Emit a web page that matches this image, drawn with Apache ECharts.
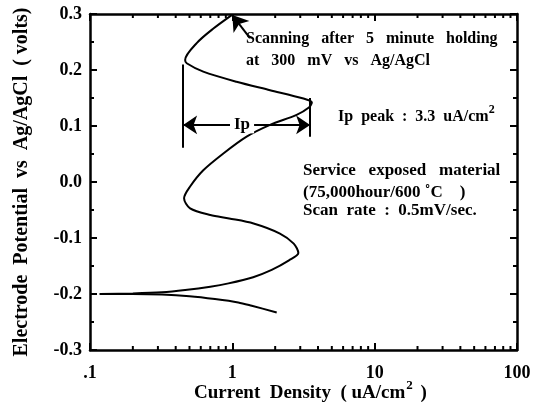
<!DOCTYPE html>
<html>
<head>
<meta charset="utf-8">
<script src="https://cdn.jsdelivr.net/npm/echarts@6/dist/echarts.min.js"></script>
<style>
  html, body { margin: 0; padding: 0; background: #fff; }
  #chart { width: 543px; height: 407px; }
</style>
</head>
<body>
<div id="chart"></div>
<script>
// cathodic branch (from corrosion potential down)
const lowerCurrent = [0.117, 0.2, 0.32, 0.5, 0.755, 1.1, 1.37, 2.05];
const lowerPotential = [-0.2, -0.2, -0.201, -0.204, -0.209, -0.215, -0.221, -0.233];
// anodic branch
const upperCurrent = [0.117, 0.2, 0.32, 0.466, 0.7, 0.94, 1.4, 1.89, 2.5, 2.91, 2.7, 2.16, 1.41, 0.95, 0.7, 0.505, 0.458, 0.505, 0.625, 0.865, 1.26, 1.84, 2.83, 3.45, 3.62, 3.16, 1.84, 1.07, 0.625, 0.478, 0.466, 0.562, 0.736, 0.99];
const upperPotential = [-0.2, -0.199, -0.197, -0.193, -0.187, -0.181, -0.17, -0.157, -0.14, -0.127, -0.11, -0.092, -0.074, -0.065, -0.059, -0.047, -0.029, -0.008, 0.021, 0.051, 0.081, 0.102, 0.12, 0.133, 0.142, 0.149, 0.164, 0.179, 0.197, 0.212, 0.218, 0.248, 0.274, 0.298];
const xMinorTicks = [0.2, 0.3, 0.4, 0.5, 0.6, 0.7, 0.8, 0.9, 2, 3, 4, 5, 6, 7, 8, 9, 20, 30, 40, 50, 60, 70, 80, 90];
// Ip marker
const ipLeft = 0.451, ipRight = 3.52, ipLevel = 0.102;

const font = 'Liberation Serif';
const zip = (xs, ys) => xs.map((x, i) => [x, ys[i]]);

let myEcharts = echarts.init(document.getElementById('chart'));

const axisLine = {onZero: false, lineStyle: {color: '#000', width: 2.5}};
const axisTick = {inside: true, length: 7, lineStyle: {color: '#000', width: 2}};
const txt = (size) => ({fontFamily: font, fontWeight: 'bold', fontSize: size, fill: '#000'});

let option = {
  animation: false,
  grid: {left: 90, right: 26, top: 14, bottom: 57, outerBoundsMode: 'none', containLabel: false},
  xAxis: [
    {
      type: 'log', logBase: 10, min: 0.1, max: 100,
      name: '{a|Current  Density  ( uA/cm}{s|2}{a| )}',
      nameLocation: 'middle', nameGap: 29, nameMoveOverlap: false,
      nameTextStyle: {
        padding: [0, 0, 0, 14],
        rich: {
          a: {fontFamily: font, fontWeight: 'bold', fontSize: 19, color: '#000'},
          s: {fontFamily: font, fontWeight: 'bold', fontSize: 13, color: '#000', padding: [0, 3, 16, 1]}
        }
      },
      axisLine: axisLine, axisTick: axisTick, splitLine: {show: false},
      axisLabel: {
        fontFamily: font, fontWeight: 'bold', fontSize: 18, color: '#000', margin: 14,
        formatter: v => {
          let r = Math.round(v * 10) / 10;
          return r < 1 ? '.1' : String(r);
        }
      }
    },
    {
      type: 'log', logBase: 10, min: 0.1, max: 100, position: 'top',
      axisLine: axisLine, axisTick: axisTick, axisLabel: {show: false}, splitLine: {show: false}
    }
  ],
  yAxis: [
    {
      type: 'value', min: -0.3, max: 0.3, interval: 0.1,
      name: 'Electrode  Potential  vs  Ag/AgCl  ( volts)',
      nameLocation: 'middle', nameGap: 58, nameMoveOverlap: false,
      nameTextStyle: {fontFamily: font, fontWeight: 'bold', fontSize: 20, color: '#000'},
      axisLine: axisLine, axisTick: axisTick,
      minorTick: {show: true, splitNumber: 2, length: 4, lineStyle: {color: '#000', width: 2}},
      splitLine: {show: false},
      axisLabel: {
        fontFamily: font, fontWeight: 'bold', fontSize: 18, color: '#000', margin: 8,
        formatter: v => v.toFixed(1)
      }
    },
    {
      type: 'value', min: -0.3, max: 0.3, interval: 0.1, position: 'right',
      axisLine: axisLine, axisTick: axisTick,
      minorTick: {show: true, splitNumber: 2, length: 4, lineStyle: {color: '#000', width: 2}},
      axisLabel: {show: false}, splitLine: {show: false}
    }
  ],
  series: [
    {
      type: 'line', data: zip(lowerCurrent, lowerPotential),
      showSymbol: false, smooth: 0.3,
      lineStyle: {color: '#000', width: 2}
    },
    {
      type: 'line', data: zip(upperCurrent, upperPotential),
      showSymbol: false, smooth: 0.3,
      lineStyle: {color: '#000', width: 2},
      markLine: {
        silent: true, symbolSize: 12,
        lineStyle: {color: '#000', width: 2, type: 'solid'},
        label: {show: false},
        data: [
          [{coord: [ipLeft, 0.21], symbol: 'none'}, {coord: [ipLeft, 0.061], symbol: 'none'}],
          [{coord: [ipRight, 0.15], symbol: 'none'}, {coord: [ipRight, 0.081], symbol: 'none'}],
          [{coord: [ipLeft, ipLevel], symbol: 'arrow', symbolSize: 14}, {coord: [ipRight, ipLevel], symbol: 'arrow', symbolSize: 14}],
          [{coord: [1.33, 0.257], symbol: 'none'}, {coord: [1.0, 0.298], symbol: 'arrow', symbolSize: 15}]
        ]
      },
      markPoint: {
        silent: true,
        data: [{
          coord: [1.17, ipLevel], symbol: 'rect', symbolSize: 1,
          itemStyle: {color: 'rgba(0,0,0,0)'},
          label: {show: true, position: 'inside', formatter: 'Ip', fontFamily: font, fontWeight: 'bold',
                  fontSize: 17, color: '#000', backgroundColor: '#fff', padding: [0, 4]}
        }]
      }
    },
    {
      type: 'custom', data: xMinorTicks.map(v => [v]), silent: true,
      renderItem: (params, api) => {
        let v = api.value(0);
        let b = api.coord([v, -0.3]);
        let t = api.coord([v, 0.3]);
        let st = {stroke: '#000', lineWidth: 2};
        return {
          type: 'group',
          children: [
            {type: 'line', shape: {x1: b[0], y1: b[1], x2: b[0], y2: b[1] - 4}, style: st},
            {type: 'line', shape: {x1: t[0], y1: t[1], x2: t[0], y2: t[1] + 4}, style: st}
          ]
        };
      }
    }
  ],
  graphic: [
    {type: 'text', left: 246, top: 31, style: Object.assign({text: 'Scanning   after   5   minute   holding'}, txt(16))},
    {type: 'text', left: 246, top: 53, style: Object.assign({text: 'at   300   mV   vs   Ag/AgCl'}, txt(16))},
    {type: 'text', left: 338, top: 104, style: {
      text: '{a|Ip  peak  :  3.3  uA/cm}{s|2}',
      rich: {
        a: txt(16),
        s: Object.assign(txt(12), {padding: [0, 0, 14, 0]})
      }
    }},
    {type: 'text', left: 303, top: 162, style: Object.assign({text: 'Service   exposed   material'}, txt(17))},
    {type: 'text', left: 303, top: 184, style: Object.assign({text: '(75,000hour/600 \u02DAC    )'}, txt(17))},
    {type: 'text', left: 303, top: 202, style: Object.assign({text: 'Scan  rate  :  0.5mV/sec.'}, txt(17))}
  ]
};
myEcharts.setOption(option);
</script>
</body>
</html>
